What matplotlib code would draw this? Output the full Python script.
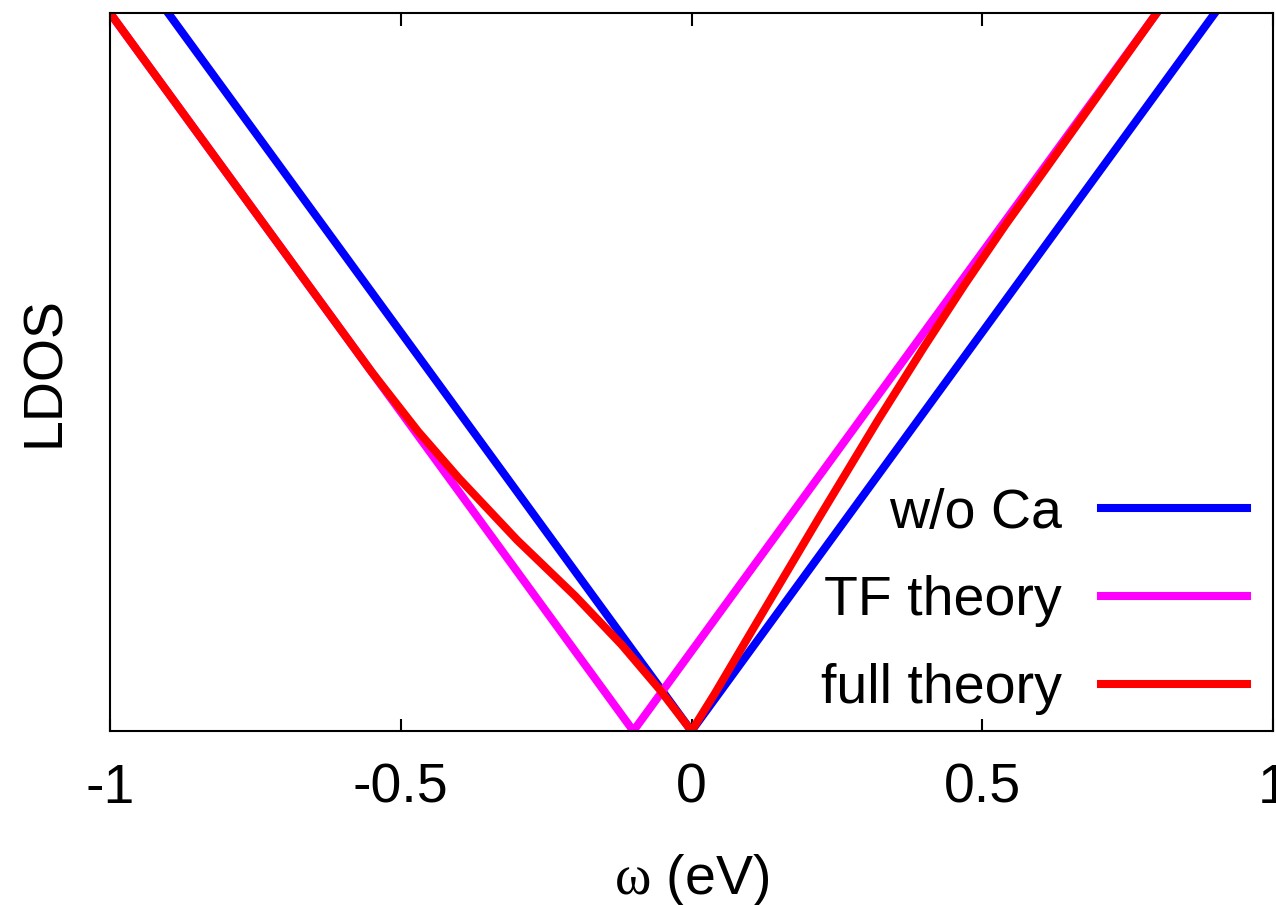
import numpy as np
import matplotlib.pyplot as plt

plt.rcParams['font.family'] = ['Liberation Sans', 'DejaVu Sans']
plt.rcParams['mathtext.fontset'] = 'custom'
plt.rcParams['mathtext.rm'] = 'Liberation Serif'
plt.rcParams['mathtext.it'] = 'Liberation Serif'
plt.rcParams['axes.linewidth'] = 1.5

# w/o Ca: plain Dirac cone centred at 0
wo_x = [-1.0, 0.0, 1.0]
wo_y = [1.111, 0.0, 1.111]

# TF theory: same cone shifted by -0.1 eV
tf_x = [-1.1, -0.1, 0.9]
tf_y = [1.111, 0.0, 1.111]

# full theory
full_x = [-1.0, -0.703, -0.55, -0.47, -0.40, -0.30, -0.20, -0.12, -0.055, 0.0,
          0.04, 0.11, 0.22, 0.32, 0.40, 0.47, 0.54, 0.61, 0.80]
full_y = [1.0, 0.670, 0.50, 0.417, 0.352, 0.266, 0.188, 0.12, 0.058, 0.0,
          0.052, 0.148, 0.298, 0.432, 0.535, 0.622, 0.705, 0.784, 1.0]

labels = ['w/o Ca', 'TF theory', 'full theory']
colors = ['#0000ff', '#ff00ff', '#ff0000']
xticks = [-1, -0.5, 0, 0.5, 1]
xtick_labels = ['-1', '-0.5', '0', '0.5', '1']

fig = plt.figure(figsize=(12.76, 9.05), dpi=100)
ax = fig.add_axes([110/1276, 1 - 731/905, 1163/1276, 718/905])

lw = 5.8
ax.plot(wo_x, wo_y, color=colors[0], lw=lw, label=labels[0])
ax.plot(tf_x, tf_y, color=colors[1], lw=lw, label=labels[1])
ax.plot(full_x, full_y, color=colors[2], lw=lw, label=labels[2])

ax.set_xlim(-1, 1)
ax.set_ylim(0, 1)
ax.set_xticks(xticks)
ax.set_xticklabels(xtick_labels)
ax.set_yticks([])
ax.tick_params(axis='x', direction='in', top=True, length=9, width=1.5,
               labelsize=40, pad=23)

ax.set_xlabel(r'$\omega$ (eV)', fontsize=40, labelpad=27)
ax.set_ylabel('LDOS', fontsize=40, labelpad=28)

leg = ax.legend(loc='lower right', bbox_to_anchor=(1247/1276, 1 - 715/905),
                bbox_transform=fig.transFigure, frameon=False, markerfirst=False,
                fontsize=40, handlelength=2.62, handletextpad=0.71,
                labelspacing=0.64, borderpad=0, borderaxespad=0)

fig.savefig('out.png', dpi=100)
